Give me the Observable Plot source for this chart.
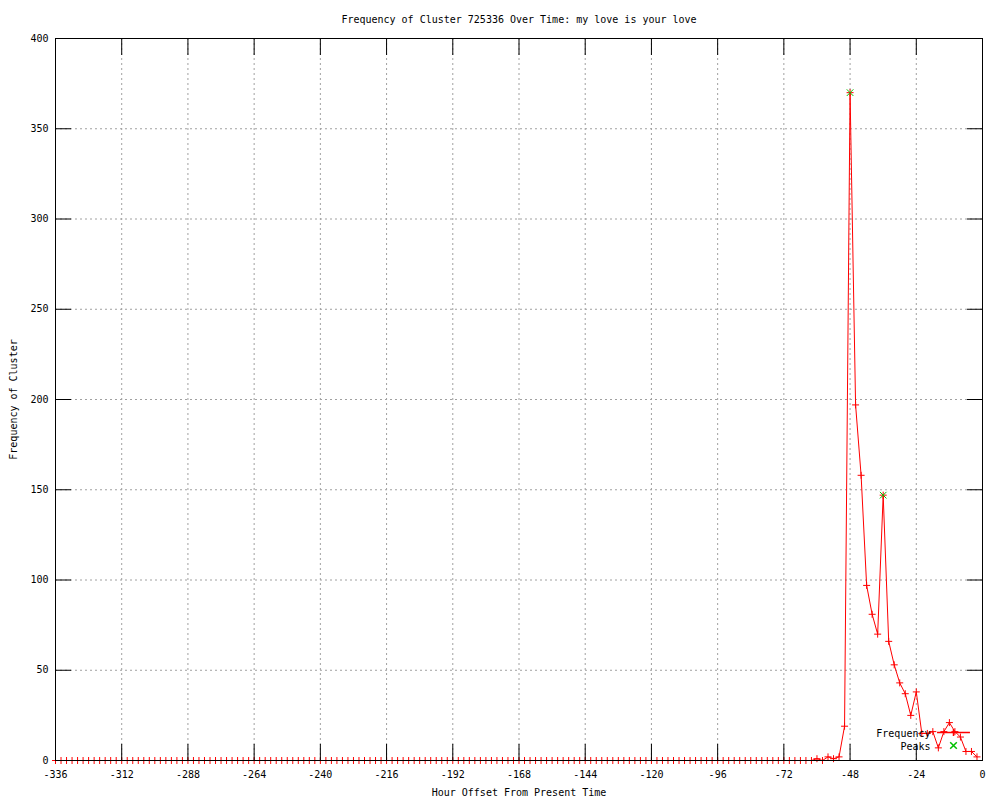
<!DOCTYPE html>
<html><head><meta charset="utf-8">
<script src="https://cdn.jsdelivr.net/npm/d3@7"></script>
<script src="https://cdn.jsdelivr.net/npm/@observablehq/plot@0.6"></script>
<style>html,body{margin:0;padding:0;background:#fff}#chart svg{display:block}</style>
</head><body><div id="chart"></div>
<script>
const title = "Frequency of Cluster 725336 Over Time: my love is your love";
const xLabel = "Hour Offset From Present Time";
const yLabel = "Frequency of Cluster";
const legendLabels = ["Frequency", "Peaks"];

const hours = [
-336,-334,-332,-330,-328,-326,-324,-322,-320,-318,-316,-314,-312,-310,-308,-306,-304,-302,-300,-298,-296,-294,-292,-290,
-288,-286,-284,-282,-280,-278,-276,-274,-272,-270,-268,-266,-264,-262,-260,-258,-256,-254,-252,-250,-248,-246,-244,-242,
-240,-238,-236,-234,-232,-230,-228,-226,-224,-222,-220,-218,-216,-214,-212,-210,-208,-206,-204,-202,-200,-198,-196,-194,
-192,-190,-188,-186,-184,-182,-180,-178,-176,-174,-172,-170,-168,-166,-164,-162,-160,-158,-156,-154,-152,-150,-148,-146,
-144,-142,-140,-138,-136,-134,-132,-130,-128,-126,-124,-122,-120,-118,-116,-114,-112,-110,-108,-106,-104,-102,-100,-98,
-96,-94,-92,-90,-88,-86,-84,-82,-80,-78,-76,-74,-72,-70,-68,-66,-64,-62,-60,-58,-56,-54,-52,-50,
-48,-46,-44,-42,-40,-38,-36,-34,-32,-30,-28,-26,-24,-22,-20,-18,-16,-14,-12,-10,-8,-6,-4,-2
];
const frequency = [
0,0,0,0,0,0,0,0,0,0,0,0,0,0,0,0,0,0,0,0,0,0,0,
0,0,0,0,0,0,0,0,0,0,0,0,0,0,0,0,0,0,0,0,0,0,0,
0,0,0,0,0,0,0,0,0,0,0,0,0,0,0,0,0,0,0,0,0,0,0,
0,0,0,0,0,0,0,0,0,0,0,0,0,0,0,0,0,0,0,0,0,0,0,
0,0,0,0,0,0,0,0,0,0,0,0,0,0,0,0,0,0,0,0,0,0,0,
0,0,0,0,0,0,0,0,0,0,0,0,0,0,0,0,0,0,0,0,0,0,0,
1,0,2,1,2,19,
370,197,158,97,81,70,147,66,53,43,37,25,38,15,15,16,7,16,21,16,13,5,5,2
];
const peakHours = [-48, -36];
const peakValues = [370, 147];
const xTicks = [-336,-312,-288,-264,-240,-216,-192,-168,-144,-120,-96,-72,-48,-24,0];
const yTicks = [0,50,100,150,200,250,300,350,400];

const freqData = hours.map((h, i) => ({hour: h, value: frequency[i]}));
const peakData = peakHours.map((h, i) => ({hour: h, value: peakValues[i]}));

const plusSymbol = {draw(ctx, size) {const r = Math.sqrt(size / Math.PI); ctx.moveTo(-r, 0); ctx.lineTo(r, 0); ctx.moveTo(0, -r); ctx.lineTo(0, r);}};
const timesSymbol = {draw(ctx, size) {const r = Math.sqrt(size / Math.PI); ctx.moveTo(-r, -r); ctx.lineTo(r, r); ctx.moveTo(-r, r); ctx.lineTo(r, -r);}};
const sampleSymbol = {draw(ctx, size) {const r = Math.sqrt(size / Math.PI); const L = r * 4.7; ctx.moveTo(-L, 0); ctx.lineTo(L, 0); ctx.moveTo(0, -r); ctx.lineTo(0, r);}};

const grid = {stroke: "#a0a0a0", strokeOpacity: 1, strokeDasharray: "2,3"};
const tickLen = 16;

const chart = Plot.plot({
  width: 1000, height: 800,
  marginLeft: 55, marginRight: 18, marginTop: 38, marginBottom: 40,
  style: {fontFamily: "'DejaVu Sans Mono', monospace", fontSize: "10px", background: "#fff"},
  x: {domain: [-336, 0]},
  y: {domain: [0, 400]},
  marks: [
    Plot.gridX(xTicks, grid),
    Plot.gridY(yTicks, grid),
    Plot.line(freqData, {x: "hour", y: "value", stroke: "#ff0000", strokeWidth: 1}),
    Plot.dot(freqData, {x: "hour", y: "value", symbol: plusSymbol, r: 3.5, stroke: "#ff0000", fill: "none", strokeWidth: 1}),
    Plot.dot(peakData, {x: "hour", y: "value", symbol: timesSymbol, r: 3.3, stroke: "#00c000", fill: "none", strokeWidth: 1}),
    Plot.frame({stroke: "#000"}),
    Plot.axisX(xTicks, {anchor: "bottom", tickSize: -tickLen, tickPadding: 26, tickFormat: d => String(d), label: xLabel, labelAnchor: "center", labelOffset: 35, labelArrow: "none", stroke: "#000"}),
    Plot.axisX(xTicks, {anchor: "top", tickSize: -tickLen, tickFormat: () => null, label: null, stroke: "#000"}),
    Plot.axisY(yTicks, {anchor: "left", tickSize: -tickLen, tickPadding: 23, tickFormat: d => String(d), label: yLabel, labelAnchor: "center", labelOffset: 46, labelArrow: "none", stroke: "#000"}),
    Plot.axisY(yTicks, {anchor: "right", tickSize: -tickLen, tickFormat: () => null, label: null, stroke: "#000"}),
    Plot.text([title], {text: d => d, frameAnchor: "top", dy: -19, lineAnchor: "middle"}),
    Plot.text([legendLabels[0]], {text: d => d, frameAnchor: "bottom-right", dx: -52, dy: -27, textAnchor: "end", lineAnchor: "middle"}),
    Plot.text([legendLabels[1]], {text: d => d, frameAnchor: "bottom-right", dx: -52, dy: -14, textAnchor: "end", lineAnchor: "middle"}),
    Plot.dot([0], {frameAnchor: "bottom-right", dx: -29, dy: -28, symbol: sampleSymbol, r: 3.5, stroke: "#ff0000", fill: "none"}),
    Plot.dot([0], {frameAnchor: "bottom-right", dx: -29, dy: -15, symbol: timesSymbol, r: 3.3, stroke: "#00c000", fill: "none"})
  ]
});
document.getElementById("chart").appendChild(chart);
</script>
</body></html>
